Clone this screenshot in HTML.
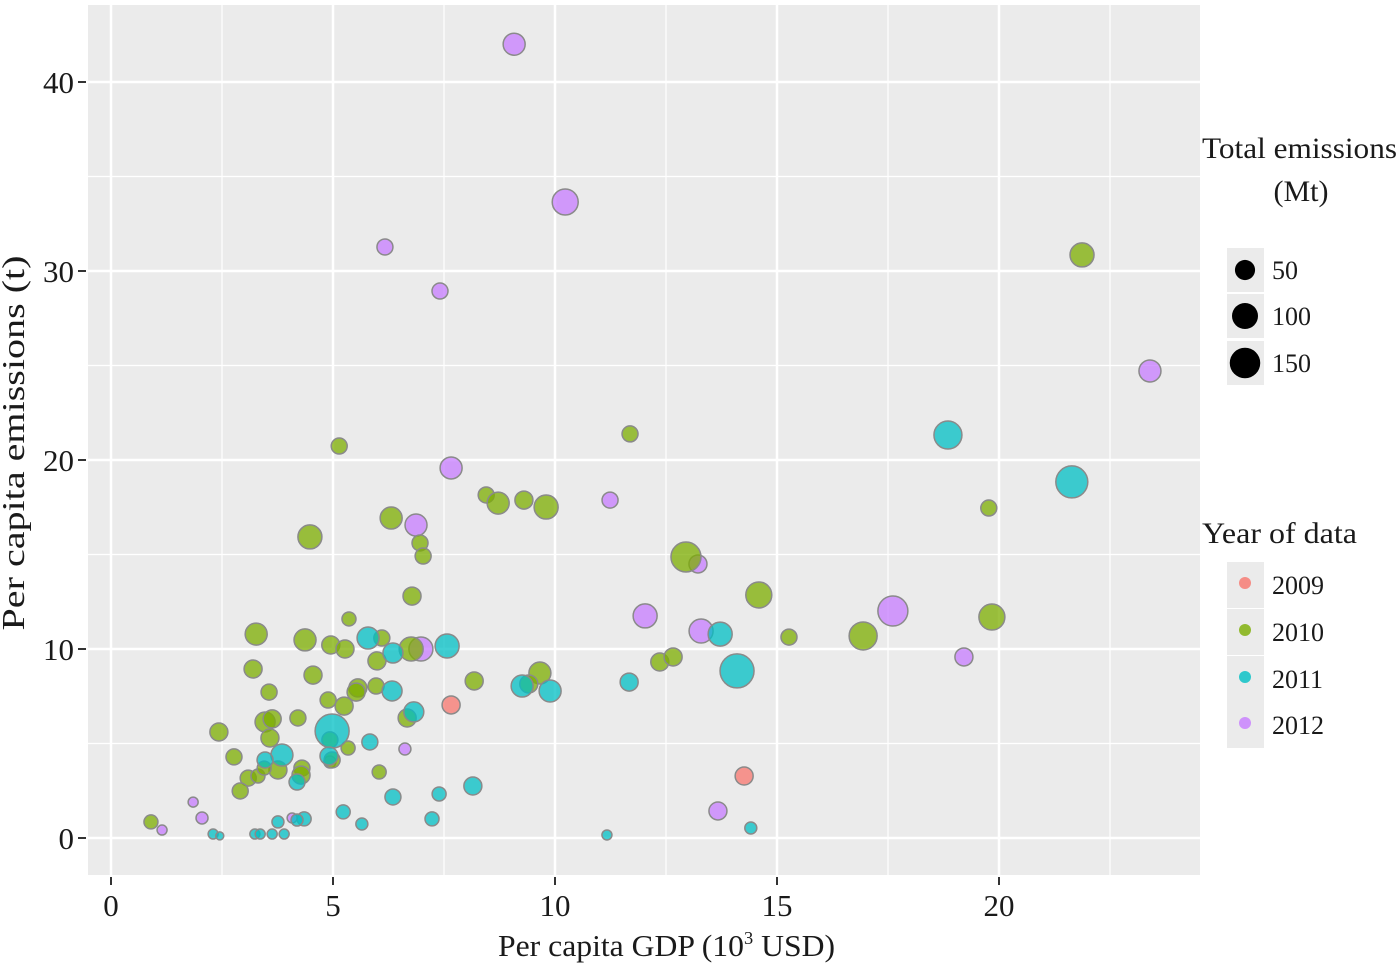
<!DOCTYPE html>
<html><head><meta charset="utf-8"><style>
body{margin:0;background:#fff;}
svg text{font-family:"Liberation Serif",serif;fill:#1a1a1a;}
</style></head><body>
<svg id="chart" width="1400" height="966" xmlns="http://www.w3.org/2000/svg">
<rect x="88" y="5" width="1112" height="870" fill="#EBEBEB"/>
<g id="grid"></g>
<g id="axes"></g>
<g id="points"></g>
<text x="24" y="443" font-size="32" text-anchor="middle" textLength="375" lengthAdjust="spacingAndGlyphs" transform="rotate(-90 24 443)">Per capita emissions (t)</text>
<text x="498" y="956" font-size="31" textLength="337" lengthAdjust="spacingAndGlyphs">Per capita GDP (10<tspan font-size="18" dy="-12">3</tspan><tspan dy="12"> USD)</tspan></text>
<g id="legend">
<text x="1202" y="158" font-size="30" textLength="195" lengthAdjust="spacingAndGlyphs">Total emissions</text>
<text x="1301" y="201" font-size="30" text-anchor="middle">(Mt)</text>
<text x="1202" y="543" font-size="30" textLength="155" lengthAdjust="spacingAndGlyphs">Year of data</text>
</g>
</svg>
<script>
const xTicks=[0,5,10,15,20];
const yTicks=[0,10,20,30,40];
const years=[2009,2010,2011,2012];
const yearColors=["#F8766D","#7CAE00","#00BFC4","#C77CFF"];
const sizeBreaks=[50,100,150];
// gdp, per capita emissions, total emissions, year
const gdp=[9.08,10.23,6.17,7.41,23.40,7.66,6.87,11.24,13.22,12.03,13.29,17.61,19.21,6.98,6.62,4.93,1.85,2.05,1.15,4.08,13.67,
21.87,5.14,11.69,4.48,6.31,6.96,7.03,6.78,8.45,8.72,9.30,9.80,12.95,5.36,3.27,4.37,4.95,5.27,6.10,5.99,6.76,3.20,4.55,8.18,9.66,9.41,14.59,12.36,12.66,15.27,16.94,19.84,19.77,4.89,5.56,5.52,5.97,3.56,6.67,2.43,2.77,3.47,3.63,4.21,5.25,3.58,3.09,2.91,4.30,4.28,3.76,3.31,4.93,4.98,5.34,6.04,0.90,3.45,
21.64,18.85,14.10,13.72,7.57,5.79,6.35,6.33,6.82,3.85,3.47,4.98,4.91,5.83,4.19,8.15,6.35,7.39,5.23,5.65,7.23,9.26,9.89,11.67,4.35,3.76,2.30,2.45,3.24,3.36,3.63,3.90,11.17,14.41,4.19,
7.66,14.26];
const perCap=[42.0,33.65,31.27,28.94,24.71,19.58,16.56,17.88,14.5,11.75,10.95,12.01,9.58,10.0,4.71,4.02,1.90,1.06,0.42,1.06,1.43,
30.85,20.74,21.38,15.93,16.93,15.61,14.92,12.80,18.15,17.72,17.88,17.51,14.87,11.59,10.79,10.48,10.21,10.0,10.58,9.37,10.0,8.94,8.62,8.31,8.73,8.15,12.86,9.31,9.58,10.63,10.69,11.69,17.46,7.30,7.94,7.72,8.04,7.72,6.35,5.61,4.29,6.14,6.30,6.35,6.98,5.29,3.17,2.49,3.70,3.33,3.60,3.28,5.19,4.13,4.76,3.49,0.85,3.70,
18.84,21.32,8.84,10.79,10.16,10.58,9.79,7.78,6.67,4.39,4.13,5.66,4.34,5.08,2.96,2.75,2.17,2.33,1.38,0.74,1.01,8.04,7.78,8.25,1.01,0.85,0.21,0.11,0.21,0.21,0.21,0.21,0.16,0.53,0.95,
7.04,3.28];
const total=[64,100,25,25,64,64,64,25,36,81,81,144,36,81,9,9,4,9,4,4,36,
81,25,25,81,64,25,25,36,25,64,36,81,144,16,64,64,36,36,25,36,81,36,36,36,64,36,100,36,36,25,121,100,25,25,36,36,25,25,36,36,25,49,36,25,36,36,25,25,25,36,36,16,25,25,16,16,16,16,
169,121,196,81,81,64,49,49,49,64,25,196,36,25,25,36,25,16,16,9,16,64,64,36,16,9,4,1,4,4,4,4,4,9,9,
36,36];
const yearOf=[2012,2012,2012,2012,2012,2012,2012,2012,2012,2012,2012,2012,2012,2012,2012,2012,2012,2012,2012,2012,2012,
2010,2010,2010,2010,2010,2010,2010,2010,2010,2010,2010,2010,2010,2010,2010,2010,2010,2010,2010,2010,2010,2010,2010,2010,2010,2010,2010,2010,2010,2010,2010,2010,2010,2010,2010,2010,2010,2010,2010,2010,2010,2010,2010,2010,2010,2010,2010,2010,2010,2010,2010,2010,2010,2010,2010,2010,2010,2010,
2011,2011,2011,2011,2011,2011,2011,2011,2011,2011,2011,2011,2011,2011,2011,2011,2011,2011,2011,2011,2011,2011,2011,2011,2011,2011,2011,2011,2011,2011,2011,2011,2011,2011,2011,
2009,2009];

const NS="http://www.w3.org/2000/svg";
const sx=v=>111+v*44.4;
const sy=v=>838-v*18.9;
const sr=v=>3+Math.sqrt(v);
function mk(tag,attrs,parent){const e=document.createElementNS(NS,tag);for(const k in attrs)e.setAttribute(k,attrs[k]);parent.appendChild(e);return e;}
const grid=document.getElementById('grid'),axes=document.getElementById('axes'),pts=document.getElementById('points'),leg=document.getElementById('legend');
for(let v=2.5;v<25;v+=5){const l=mk('line',{x1:sx(v),x2:sx(v),y1:5,y2:875,stroke:'#fff','stroke-width':1.2},grid);

}
for(let v=5;v<45;v+=10){const l=mk('line',{y1:sy(v),y2:sy(v),x1:88,x2:1200,stroke:'#fff','stroke-width':1.2},grid);

}
xTicks.forEach(v=>{const l=mk('line',{x1:sx(v),x2:sx(v),y1:5,y2:875,stroke:'#fff','stroke-width':2.5},grid);


const t=mk('line',{x1:sx(v),x2:sx(v),y1:877,y2:885,stroke:'#333','stroke-width':2},axes);


const tx=mk('text',{x:sx(v),y:916,'font-size':31,'text-anchor':'middle'},axes);tx.textContent=v;

});
yTicks.forEach(v=>{const l=mk('line',{y1:sy(v),y2:sy(v),x1:88,x2:1200,stroke:'#fff','stroke-width':2.5},grid);


const t=mk('line',{y1:sy(v),y2:sy(v),x1:78,x2:86,stroke:'#333','stroke-width':2},axes);


const tx=mk('text',{x:74,y:sy(v)+11,'font-size':31,'text-anchor':'end'},axes);tx.textContent=v;

});
for(let i=0;i<gdp.length;i++){
const c=mk('circle',{cx:sx(gdp[i]),cy:sy(perCap[i]),r:sr(total[i]),fill:yearColors[years.indexOf(yearOf[i])],'fill-opacity':0.75,stroke:'#8a8a8a','stroke-width':1.5},pts);

}
const sizeY=[270,316,363];
sizeBreaks.forEach((v,i)=>{const b=mk('rect',{x:1227,y:sizeY[i]-22,width:37,height:44,fill:'#EBEBEB'},leg);


const c=mk('circle',{cx:1245,cy:sizeY[i],r:sr(v),fill:'#000'},leg);


const t=mk('text',{x:1272,y:sizeY[i]+9,'font-size':26},leg);t.textContent=v;

});
const yrY=[585,632,679,725];
years.forEach((v,i)=>{const b=mk('rect',{x:1227,y:yrY[i]-23,width:37,height:46,fill:'#EBEBEB'},leg);


const c=mk('circle',{cx:1245,cy:yrY[i]-2,r:6,fill:yearColors[i],'fill-opacity':0.8},leg);


const t=mk('text',{x:1272,y:yrY[i]+9,'font-size':26},leg);t.textContent=v;

});
</script>
</body></html>
